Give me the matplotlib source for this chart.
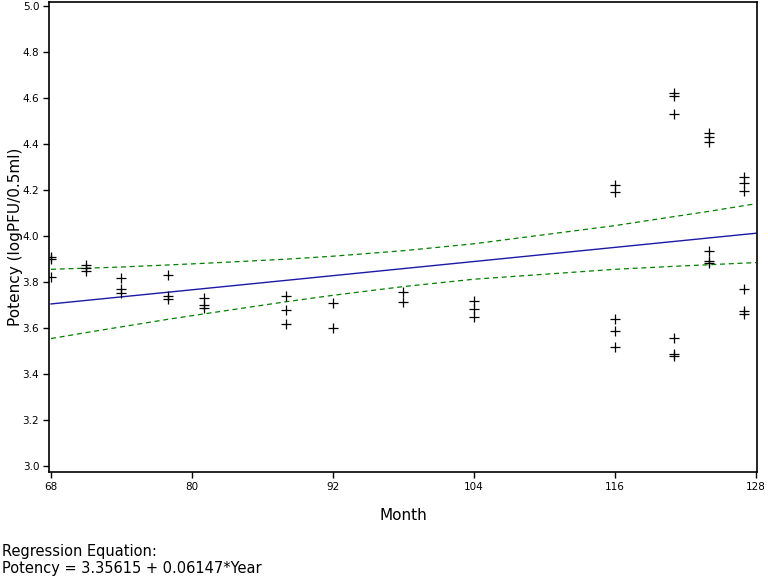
import numpy as np
from matplotlib import pyplot as plt

# observed potency values by month
months = [68, 68, 68, 71, 71, 71, 74, 74, 74, 78, 78, 78, 81, 81, 81,
          88, 88, 88, 92, 92, 98, 98, 104, 104, 104,
          116, 116, 116, 116, 116, 121, 121, 121, 121, 121, 121,
          124, 124, 124, 124, 124, 124, 127, 127, 127, 127, 127, 127]
potency = [3.91, 3.90, 3.82, 3.874, 3.862, 3.849, 3.816, 3.769, 3.750,
           3.830, 3.739, 3.726, 3.729, 3.701, 3.687,
           3.739, 3.676, 3.617, 3.707, 3.600, 3.758, 3.714, 3.717, 3.681, 3.647,
           4.222, 4.190, 3.638, 3.588, 3.516,
           4.620, 4.609, 4.530, 3.558, 3.487, 3.476,
           4.449, 4.429, 4.407, 3.936, 3.893, 3.881,
           4.258, 4.229, 4.197, 3.768, 3.675, 3.660]

# regression line (Year = Month / 12)
intercept = 3.35615
slope = 0.06147

# confidence limits
band_months = [68, 71, 74, 78, 81, 88, 92, 98, 104, 116, 121, 124, 127, 128]
band_upper = [3.855, 3.860, 3.865, 3.874, 3.881, 3.899, 3.912, 3.936, 3.966,
              4.045, 4.084, 4.107, 4.132, 4.140]
band_lower = [3.554, 3.580, 3.605, 3.638, 3.661, 3.714, 3.742, 3.780, 3.812,
              3.855, 3.868, 3.875, 3.882, 3.884]

fig = plt.figure(figsize=(7.68, 5.76), dpi=100)
ax = fig.add_axes([0.0638, 0.1806, 0.9219, 0.8159])

ax.plot(band_months, band_upper, color='#008000', linestyle=(0, (4, 3)), linewidth=0.9)
ax.plot(band_months, band_lower, color='#008000', linestyle=(0, (4, 3)), linewidth=0.9)

line_x = np.array([68, 128])
line_y = intercept + slope * line_x / 12
ax.plot(line_x, line_y, color='#1a1aa6', linewidth=1.0)

ax.plot(months, potency, linestyle='none', marker='+', markersize=7,
        markeredgewidth=0.9, color='black')

ax.set_xlim(67.83, 128.09)
ax.set_ylim(2.974, 5.017)
ax.set_xticks([68, 80, 92, 104, 116, 128])
ax.set_yticks([3.0, 3.2, 3.4, 3.6, 3.8, 4.0, 4.2, 4.4, 4.6, 4.8, 5.0])
ax.set_yticklabels(['3.0', '3.2', '3.4', '3.6', '3.8', '4.0', '4.2', '4.4', '4.6', '4.8', '5.0'])
ax.tick_params(direction='out', length=4, width=1, labelsize=7.5, pad=3)
for s in ax.spines.values():
    s.set_linewidth(1.2)

ax.set_xlabel('Month', fontsize=11, labelpad=12)
ax.set_ylabel('Potency (logPFU/0.5ml)', fontsize=11, labelpad=0)

fig.text(0.003, 0.043, 'Regression Equation:', fontsize=10.5, va='center')
fig.text(0.003, 0.013, 'Potency = 3.35615 + 0.06147*Year', fontsize=10.5, va='center')

fig.savefig('out.png', dpi=100)
